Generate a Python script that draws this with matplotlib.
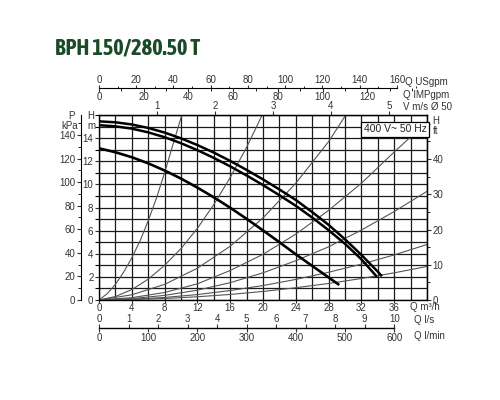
import numpy as np
import matplotlib
matplotlib.use('Agg')
import matplotlib.pyplot as plt
from matplotlib.ticker import MultipleLocator
from matplotlib import font_manager

plt.rcParams['font.family'] = ['Liberation Sans', 'DejaVu Sans']

titulo = 'BPH 150/280.50 T'
tension = '400 V~ 50 Hz'

# curvas de la bomba (Q m3/h, H m)
curva_a_q = [0, 2, 4, 6, 8, 10, 12, 14, 16, 18, 20, 22, 24, 26, 28, 30, 32, 34, 34.5]
curva_a_h = [15.45, 15.37, 15.18, 14.88, 14.48, 13.98, 13.4, 12.75, 12.03, 11.25,
             10.43, 9.56, 8.65, 7.6, 6.5, 5.25, 3.9, 2.45, 2.05]
curva_b_q = [0, 2, 4, 6, 8, 10, 12, 14, 16, 18, 20, 22, 24, 26, 28, 30, 32, 33.9]
curva_b_h = [15.12, 15.02, 14.82, 14.5, 14.08, 13.56, 12.96, 12.29, 11.56, 10.77,
             9.94, 9.06, 8.15, 7.13, 6.04, 4.86, 3.52, 2.0]
curva_c_q = [0, 2, 4, 6, 8, 10, 12, 14, 16, 18, 20, 22, 24, 26, 28, 29.3]
curva_c_h = [13.12, 12.78, 12.35, 11.82, 11.2, 10.5, 9.72, 8.88, 7.98, 7.02,
             6.02, 5.0, 3.95, 2.95, 1.95, 1.3]

# curvas finas del sistema
sis1_q = [0, 1, 2, 3, 4, 5, 6, 7, 8, 9, 10.1]
sis1_h = [0, 0.55, 1.35, 2.4, 3.65, 5.1, 6.85, 8.8, 11.0, 13.4, 16.0]
sis2_q = [0, 2, 4, 6, 8, 10, 12, 14, 16, 18, 19.9]
sis2_h = [0, 0.3, 0.9, 1.8, 3.0, 4.45, 6.2, 8.25, 10.6, 13.2, 16.0]
sis3_q = [0, 4, 8, 12, 16, 20, 24, 28, 30.1]
sis3_h = [0, 0.45, 1.35, 2.75, 4.65, 7.1, 10.1, 13.7, 16.0]
sis_q = [0, 4, 8, 12, 16, 20, 24, 28, 32, 36, 40]
sis4_h = [0, 0.2, 0.65, 1.4, 2.55, 3.95, 5.7, 7.75, 10.1, 12.8, 15.4]
sis5_h = [0, 0.12, 0.4, 0.85, 1.5, 2.35, 3.4, 4.6, 6.05, 7.65, 9.4]
sis6_h = [0, 0.07, 0.22, 0.47, 0.82, 1.25, 1.78, 2.4, 3.1, 3.9, 4.8]
sis7_h = [0, 0.04, 0.13, 0.28, 0.48, 0.74, 1.06, 1.43, 1.86, 2.35, 2.9]

gris = '#333333'

# fuente estrecha y negrita para el titulo si existe
fuentes = font_manager.fontManager.ttflist
estrechas = sorted({f.name for f in fuentes
                    if ('Narrow' in f.name or 'Condensed' in f.name) and f.weight in (700, 'bold')})
if 'Liberation Sans Narrow' in estrechas:
    fuente_titulo = dict(family='Liberation Sans Narrow')
elif estrechas:
    fuente_titulo = dict(family=estrechas[0])
else:
    fuente_titulo = dict(family='DejaVu Sans', stretch='condensed')

fig = plt.figure(figsize=(5, 4), dpi=100)
fig.text(0.11, 0.879, titulo, fontsize=16, fontweight='bold', color='#1b4a28',
         va='center', ha='left', **fuente_titulo)

ax = fig.add_axes([0.198, 0.25, 0.656, 0.4625])
ax.set_xlim(0, 40)
ax.set_ylim(0, 16)
ax.xaxis.set_major_locator(MultipleLocator(4))
ax.xaxis.set_minor_locator(MultipleLocator(2))
ax.yaxis.set_major_locator(MultipleLocator(2))
ax.yaxis.set_minor_locator(MultipleLocator(1))
ax.grid(which='both', color='#1a1a1a', lw=0.9, zorder=1)
ax.set_axisbelow(True)
ax.set_xticks([0, 4, 8, 12, 16, 20, 24, 28, 32, 36])
ax.set_yticks([0, 2, 4, 6, 8, 10, 12, 14])
ax.tick_params(labelsize=7, colors=gris, length=3, pad=1, width=0.8)
ax.tick_params(axis='x', length=2, pad=0.5)
ax.tick_params(axis='x', which='minor', length=0)
ax.tick_params(axis='y', which='minor', length=3, width=0.8)
for s in ax.spines.values():
    s.set_linewidth(1.0)

# curvas del sistema
ax.plot(sis1_q, sis1_h, color='#555555', lw=0.8, zorder=2)
ax.plot(sis2_q, sis2_h, color='#555555', lw=0.8, zorder=2)
ax.plot(sis3_q, sis3_h, color='#555555', lw=0.8, zorder=2)
for h in [sis4_h, sis5_h, sis6_h, sis7_h]:
    ax.plot(sis_q, h, color='#555555', lw=0.8, zorder=2)

# curvas de la bomba
ax.plot(curva_a_q, curva_a_h, color='black', lw=1.8, zorder=3, solid_capstyle='butt')
ax.plot(curva_b_q, curva_b_h, color='black', lw=1.8, zorder=3, solid_capstyle='butt')
ax.plot(curva_c_q, curva_c_h, color='black', lw=1.9, zorder=3, solid_capstyle='butt')

ax.text(36.1, 14.75, tension, ha='center', va='center', fontsize=7.5, color='#222',
        zorder=5, bbox=dict(boxstyle='square,pad=0.25', fc='white', ec='black', lw=0.9))

# ejes secundarios
kpa = ax.secondary_yaxis(-0.056, functions=(lambda h: h * 9.80665, lambda p: p / 9.80665))
kpa.set_yticks(np.arange(0, 141, 20))
kpa.yaxis.set_minor_locator(MultipleLocator(10))
kpa.tick_params(labelsize=7, colors=gris, length=3, pad=1, width=0.8)
kpa.tick_params(which='minor', length=2)
kpa.spines['left'].set_linewidth(0.8)

ft = ax.secondary_yaxis('right', functions=(lambda h: h * 3.28084, lambda f: f / 3.28084))
ft.set_yticks([0, 10, 20, 30, 40])
ft.yaxis.set_minor_locator(MultipleLocator(5))
ft.tick_params(labelsize=7, colors=gris, length=3, pad=1, width=0.8)
ft.tick_params(which='minor', length=2)

vel = ax.secondary_xaxis('top', functions=(lambda q: q / 7.0686, lambda v: v * 7.0686))
vel.set_xticks([1, 2, 3, 4, 5])
vel.tick_params(labelsize=7, colors=gris, length=3, pad=0, width=0.8)

us = ax.secondary_xaxis(1.146, functions=(lambda q: q / 0.22712, lambda g: g * 0.22712))
us.set_xticks(np.arange(0, 161, 20))
us.xaxis.set_minor_locator(MultipleLocator(10))
us.tick_params(labelsize=7, colors=gris, length=2, pad=0, width=0.8)
us.tick_params(which='minor', length=1.5)
us.spines['top'].set_bounds(0, 160)
us.spines['top'].set_linewidth(0.8)

imp = ax.secondary_xaxis(1.146, functions=(lambda q: q / 0.27277, lambda g: g * 0.27277))
imp.set_alignment('bottom')
imp.set_xticks(np.arange(0, 121, 20))
imp.xaxis.set_minor_locator(MultipleLocator(10))
imp.tick_params(labelsize=7, colors=gris, length=3, pad=0, width=0.8)
imp.tick_params(which='minor', length=2)
imp.spines['bottom'].set_visible(False)

ls = ax.secondary_xaxis(-0.15, functions=(lambda q: q / 3.6, lambda l: l * 3.6))
ls.set_alignment('top')
ls.set_xticks(np.arange(0, 11, 1))
ls.tick_params(labelsize=7, colors=gris, length=3, pad=0, width=0.8)
ls.spines['top'].set_bounds(0, 10)
ls.spines['top'].set_linewidth(1.0)

lmin = ax.secondary_xaxis(-0.15, functions=(lambda q: q * 1000 / 60, lambda l: l * 60 / 1000))
lmin.set_xticks(np.arange(0, 601, 100))
lmin.tick_params(labelsize=7, colors=gris, length=3, pad=1, width=0.8)
lmin.spines['bottom'].set_visible(False)

# rotulos
fig.text(0.182, 0.71, 'H', fontsize=7, color=gris, ha='center', va='center')
fig.text(0.182, 0.685, 'm', fontsize=7, color=gris, ha='center', va='center')
fig.text(0.142, 0.71, 'P', fontsize=7, color=gris, ha='center', va='center')
fig.text(0.155, 0.685, 'kPa', fontsize=7, color=gris, ha='right', va='center')
fig.text(0.865, 0.6975, 'H', fontsize=7, color=gris, ha='left', va='center')
fig.text(0.866, 0.6725, 'ft', fontsize=7, color=gris, ha='left', va='center')
fig.text(0.81, 0.796, 'Q USgpm', fontsize=7, color=gris, ha='left', va='center')
fig.text(0.806, 0.7625, 'Q IMPgpm', fontsize=7, color=gris, ha='left', va='center')
fig.text(0.806, 0.733, 'V m/s Ø 50', fontsize=7, color=gris, ha='left', va='center')
fig.text(0.821, 0.233, 'Q m³/h', fontsize=7, color=gris, ha='left', va='center')
fig.text(0.829, 0.2, 'Q l/s', fontsize=7, color=gris, ha='left', va='center')
fig.text(0.829, 0.16, 'Q l/min', fontsize=7, color=gris, ha='left', va='center')

fig.savefig('out.png', dpi=100)
